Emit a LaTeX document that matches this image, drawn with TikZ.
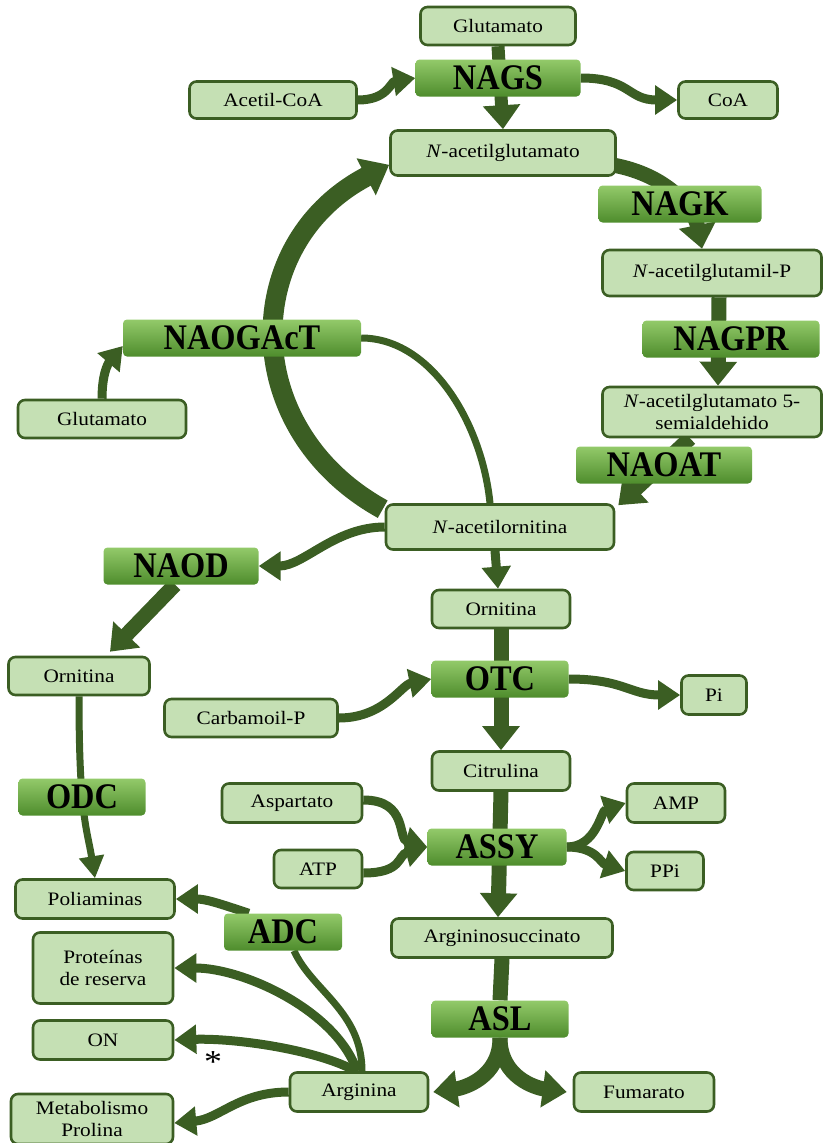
\documentclass[tikz,border=0pt]{standalone}
\usepackage{fontspec}
\setmainfont{Liberation Serif}[FakeStretch=1.12]
\newfontfamily\enzfont[FakeStretch=0.9]{Liberation Serif Bold}
\usetikzlibrary{arrows.meta}

\definecolor{arrGreen}{HTML}{3B5E23}
\definecolor{molFill}{HTML}{C5E0B4}
\definecolor{enzTop}{HTML}{93CA6A}
\definecolor{enzBot}{HTML}{4E8C2C}

\pgfdeclarelayer{bg}
\pgfsetlayers{bg,main}

\tikzset{
  mol/.style={draw=arrGreen, line width=2.6pt, fill=molFill, rounded corners=7pt,
    align=center, inner sep=2pt, font=\fontsize{19}{22}\selectfont},
  enz/.style={rounded corners=4pt, top color=enzTop, bottom color=enzBot,
    minimum height=37pt, inner sep=0pt, font=\enzfont\fontsize{36}{36}\selectfont},
  flow/.style={draw=arrGreen, line width=15pt, -{Triangle[width=36pt,length=24pt]}},
  flowbar/.style={draw=arrGreen, line width=15pt},
  cyclearr/.style={draw=arrGreen, line width=20pt, -{Triangle[width=40pt,length=26pt]}},
  sidearr/.style={draw=arrGreen, line width=9pt, -{Triangle[width=28pt,length=22pt]}},
  thinline/.style={draw=arrGreen, line width=7pt},
  thinarr/.style={draw=arrGreen, line width=7pt, -{Triangle[width=24pt,length=22pt]}}
}

\begin{document}
\begin{tikzpicture}[x=1pt, y=-1pt]
  \useasboundingbox (0,0) rectangle (823,1143);

  % metabolites
  \node[mol, minimum width=155pt, minimum height=38pt] (glutop) at (498,26) {Glutamato};
  \node[mol, minimum width=167pt, minimum height=37pt] (acoa) at (273,100) {Acetil-CoA};
  \node[mol, minimum width=99pt, minimum height=37pt] (coa) at (728,100) {CoA};
  \node[mol, minimum width=225pt, minimum height=45pt] (nag) at (503,153) {\textit{N}-acetilglutamato};
  \node[mol, minimum width=219pt, minimum height=46pt] (nagp) at (712,273) {\textit{N}-acetilglutamil-P};
  \node[mol, minimum width=219pt, minimum height=50pt] (nags5) at (712,412) {\textit{N}-acetilglutamato 5-\\semialdehido};
  \node[mol, minimum width=168pt, minimum height=38pt] (glul) at (102,419) {Glutamato};
  \node[mol, minimum width=228pt, minimum height=45pt] (naorn) at (500,527) {\textit{N}-acetilornitina};
  \node[mol, minimum width=138pt, minimum height=38pt] (ornm) at (501,609) {Ornitina};
  \node[mol, minimum width=141pt, minimum height=38pt] (ornl) at (79,676) {Ornitina};
  \node[mol, minimum width=173pt, minimum height=38pt] (carb) at (251,718) {Carbamoil-P};
  \node[mol, minimum width=65pt, minimum height=39pt] (pi) at (714,695) {Pi};
  \node[mol, minimum width=138pt, minimum height=39pt] (citr) at (501,771) {Citrulina};
  \node[mol, minimum width=140pt, minimum height=39pt] (asp) at (292,803) {Aspartato};
  \node[mol, minimum width=98pt, minimum height=39pt] (amp) at (676,803) {AMP};
  \node[mol, minimum width=88pt, minimum height=38pt] (atp) at (318,869) {ATP};
  \node[mol, minimum width=77pt, minimum height=38pt] (ppi) at (665,871) {PPi};
  \node[mol, minimum width=159pt, minimum height=39pt] (polia) at (95,899) {Poliaminas};
  \node[mol, minimum width=221pt, minimum height=39pt] (argsuc) at (502,938) {Argininosuccinato};
  \node[mol, minimum width=140pt, minimum height=71pt] (prot) at (103,968) {Proteínas\\de reserva};
  \node[mol, minimum width=140pt, minimum height=39pt] (on) at (103,1040) {ON};
  \node[mol, minimum width=138pt, minimum height=39pt] (arg) at (359,1092) {Arginina};
  \node[mol, minimum width=140pt, minimum height=39pt] (fum) at (644,1092) {Fumarato};
  \node[mol, minimum width=162pt, minimum height=50pt] (metab) at (92,1119) {Metabolismo\\Prolina};
  \node[font=\fontsize{32}{32}\selectfont] (star) at (213,1062) {*};

  % enzymes
  \node[enz, minimum width=165pt] (nags) at (498,78) {NAGS};
  \node[enz, minimum width=163pt] (nagk) at (680,204) {NAGK};
  \node[enz, minimum width=238pt] (nagact) at (242,338) {NAOGAcT};
  \node[enz, minimum width=177pt] (nagpr) at (731,339) {NAGPR};
  \node[enz, minimum width=176pt] (naoat) at (664,465) {NAOAT};
  \node[enz, minimum width=155pt] (naod) at (181,566) {NAOD};
  \node[enz, minimum width=137pt] (otc) at (500,679) {OTC};
  \node[enz, minimum width=127pt] (odc) at (82,797) {ODC};
  \node[enz, minimum width=139pt] (assy) at (497,847) {ASSY};
  \node[enz, minimum width=118pt] (adc) at (283,932) {ADC};
  \node[enz, minimum width=137pt] (asl) at (500,1019) {ASL};

  \begin{pgfonlayer}{bg}
    % N-acetilglutamato to N-acetilornitina
    \draw[flow, line width=13pt] (glutop.south) -- (nag.north);
    \draw[sidearr] (acoa.east) .. controls +(30,0) and +(-25,4) .. (nags.west);
    \draw[sidearr] (nags.east) .. controls +(50,0) and +(-50,0) .. (coa.west);
    \draw[flow] ([xshift=-4pt,yshift=-12pt]nag.east) .. controls +(55,10) and +(-8,-40) .. ([xshift=-10pt]nagp.north);
    \draw[flow] ([xshift=7pt]nagp.south) -- ([xshift=6pt]nags5.north);
    \draw[flow] ([xshift=-22pt]nags5.south) -- ([xshift=3pt,yshift=-2pt]naorn.north east);
    % acetyl cycle
    \draw[cyclearr] ([xshift=-2pt,yshift=-6pt]naorn.north west) .. controls +(-145,-80) and +(-150,78) .. ([yshift=12pt]nag.south west);
    \draw[thinline] (nagact.east) .. controls +(70,0) and +(-8,-80) .. ([xshift=-10pt]naorn.north);
    \draw[sidearr] (glul.north) .. controls +(0,-30) and +(-12,14) .. ([yshift=-8pt]nagact.west);
    % ornitina
    \draw[sidearr] (naorn.west) .. controls +(-50,0) and +(45,0) .. (naod.east);
    \draw[sidearr] ([xshift=-5pt]naorn.south) -- ([xshift=-3pt]ornm.north);
    \draw[flow] ([xshift=-6pt]naod.south) -- ([xshift=31pt,yshift=4pt]ornl.north);
    \draw[thinarr] (ornl.south) .. controls +(0,120) and +(-8,-50) .. (polia.north);
    % urea cycle part
    \draw[flow] (ornm.south) -- (citr.north);
    \draw[sidearr] (carb.east) .. controls +(45,0) and +(-30,6) .. (otc.west);
    \draw[sidearr] (otc.east) .. controls +(55,0) and +(-50,0) .. (pi.west);
    \draw[flow] (citr.south) -- ([xshift=-4pt]argsuc.north);
    \draw[sidearr] ([yshift=3pt]asp.east) .. controls +(45,0) and +(-30,-8) .. (assy.west);
    \draw[sidearr] ([yshift=-4pt]atp.east) .. controls +(40,0) and +(-30,8) .. (assy.west);
    \draw[sidearr] (assy.east) .. controls +(30,0) and +(-25,8) .. (amp.west);
    \draw[sidearr] (assy.east) .. controls +(30,0) and +(-25,-8) .. (ppi.west);
    % arginina
    \draw[flowbar] (argsuc.south) -- (asl.north);
    \draw[flow] (asl.south) .. controls +(0,40) and +(30,-4) .. ([xshift=4pt]arg.east);
    \draw[flow] (asl.south) .. controls +(0,40) and +(-30,-4) .. ([xshift=-6pt]fum.west);
    \draw[sidearr] (arg.west) .. controls +(-50,0) and +(45,-4) .. ([yshift=-4pt]metab.east);
    \draw[sidearr] ([xshift=-3pt]arg.north) .. controls +(-40,-22) and +(60,-2) .. (on.east);
    \draw[sidearr] ([xshift=-2pt]arg.north) .. controls +(-20,-60) and +(70,0) .. (prot.east);
    \draw[thinline] ([xshift=3pt]arg.north) .. controls +(0,-60) and +(18,40) .. ([xshift=11pt]adc.south);
    \draw[sidearr] ([xshift=25pt]adc.north west) .. controls +(-30,-10) and +(30,0) .. (polia.east);
  \end{pgfonlayer}
\end{tikzpicture}
\end{document}
